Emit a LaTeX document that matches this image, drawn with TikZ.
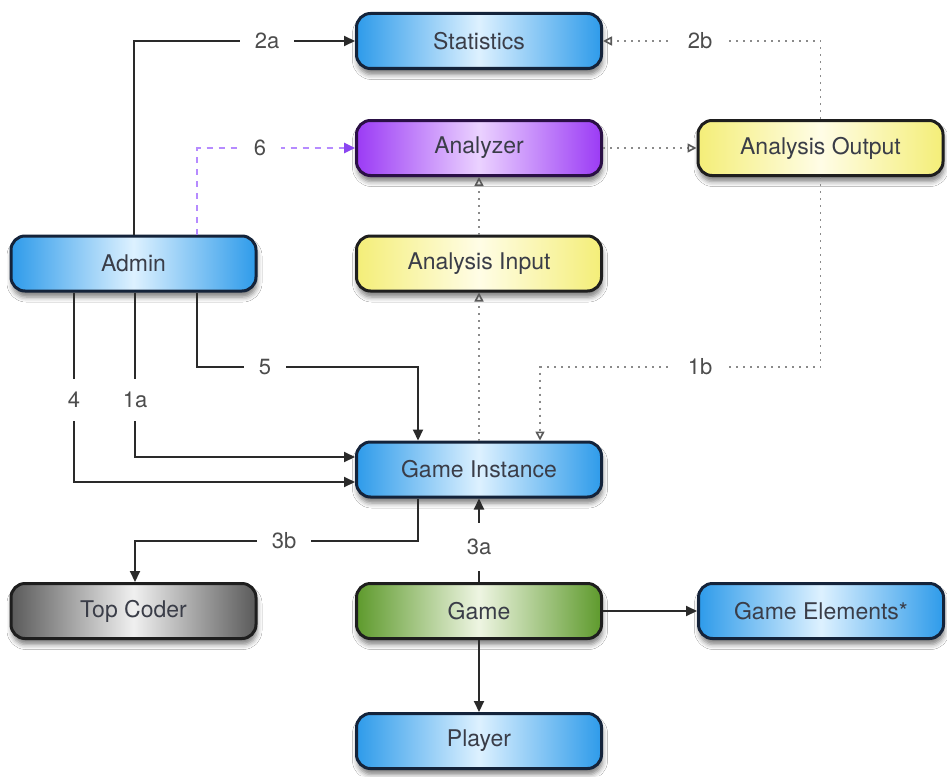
\documentclass[tikz,border=0pt]{standalone}
\usepackage{fontspec}
\setmainfont{TeX Gyre Heros}
\usetikzlibrary{arrows.meta,shadows.blur}

\definecolor{bluefill}{HTML}{2E9BEA}
\definecolor{bluelight}{HTML}{DDF1FF}
\definecolor{blueline}{HTML}{14233A}
\definecolor{purpfill}{HTML}{9B3BF5}
\definecolor{purplight}{HTML}{EBD2FF}
\definecolor{purpline}{HTML}{2A0F45}
\definecolor{yelfill}{HTML}{F4EE78}
\definecolor{yellight}{HTML}{FFFDE6}
\definecolor{grayfill}{HTML}{5A5A5A}
\definecolor{graylight}{HTML}{F0F0F0}
\definecolor{greenfill}{HTML}{5E9A2C}
\definecolor{greenlight}{HTML}{EEF5E2}
\definecolor{darkline}{HTML}{1E1E1E}
\definecolor{txt}{HTML}{3A3D48}
\definecolor{conncol}{HTML}{2A2A2A}
\definecolor{dotcol}{HTML}{8A8A8A}
\definecolor{purpconn}{HTML}{B68BFF}
\definecolor{purptip}{HTML}{8A45F0}

\tikzset{
  box/.style={rounded corners=14pt, minimum width=245pt, minimum height=55pt,
    line width=3pt, inner sep=0pt, text=txt,
    font=\fontsize{23}{26}\selectfont,
    blur shadow={shadow xshift=1pt, shadow yshift=-6pt,
      shadow blur radius=5pt, shadow opacity=50}},
  bluebox/.style={box, draw=blueline, left color=bluefill, right color=bluefill, middle color=bluelight},
  purpbox/.style={box, draw=purpline, left color=purpfill, right color=purpfill, middle color=purplight},
  yelbox/.style={box, draw=darkline, left color=yelfill, right color=yelfill, middle color=yellight},
  graybox/.style={box, draw=darkline, left color=grayfill, right color=grayfill, middle color=graylight},
  greenbox/.style={box, draw=darkline, left color=greenfill, right color=greenfill, middle color=greenlight},
  conn/.style={line width=2pt, draw=conncol, -{Triangle[length=11pt,width=10pt]}},
  dotconn/.style={line width=1.8pt, draw=dotcol, dash pattern=on 2pt off 5pt,
    -{Triangle[open,length=9pt,width=9pt,line width=1.6pt,color=black!65]}},
  purpconnstyle/.style={line width=2.5pt, draw=purpconn, dash pattern=on 6pt off 6pt,
    -{Triangle[length=11pt,width=10pt,color=purptip]}},
  lbl/.style={fill=white, inner xsep=15pt, inner ysep=13pt, text=black!70,
    font=\fontsize{22}{24}\selectfont},
}

\begin{document}
\begin{tikzpicture}[x=1pt,y=-1pt]
\useasboundingbox[fill=white] (0,0) rectangle (947,776);

% nodes
\node[bluebox]  (stat)   at (479,41)    {Statistics};
\node[purpbox]  (an)     at (479,148)   {Analyzer};
\node[yelbox]   (ao)     at (820.5,148) {Analysis Output};
\node[bluebox]  (admin)  at (133.5,263.5) {Admin};
\node[yelbox]   (ai)     at (479,263.5) {Analysis Input};
\node[bluebox]  (gi)     at (479,469.5) {Game Instance};
\node[graybox]  (tc)     at (133.5,611) {Top Coder};
\node[greenbox] (game)   at (479,611)   {Game};
\node[bluebox]  (ge)     at (821,611)   {Game Elements*};
\node[bluebox]  (player) at (479,741)   {Player};

% bend points
\coordinate (k6)  at (197,148);
\coordinate (k5a) at (197,367);
\coordinate (k5b) at (418,367);
\coordinate (k1a) at (135,457);
\coordinate (k4)  at (74,482);
\coordinate (k1b) at (540,367);
\coordinate (k3a) at (418,541);
\coordinate (k3b) at (135,541);

% connectors
\draw[conn] (admin.north) |- (stat.west);
\draw[purpconnstyle] (admin.north -| k6) |- (an.west);
\draw[dotconn] (ao.north) |- (stat.east);
\draw[dotconn] (an.east) -- (ao.west);
\draw[dotconn] (ai.north) -- (an.south);
\draw[dotconn] (gi.north) -- (ai.south);
\draw[dotconn] (ao.south) |- (k1b) -- (k1b |- gi.north);
\draw[conn] (admin.south -| k5a) -- (k5a) -- (k5b) -- (k5b |- gi.north);
\draw[conn] (admin.south -| k1a) -- (k1a) -- (k1a -| gi.west);
\draw[conn] (admin.south -| k4) -- (k4) -- (k4 -| gi.west);
\draw[conn] (gi.south -| k3a) -- (k3a) -- (k3b) -- (k3b |- tc.north);
\draw[conn] (game.north) -- (gi.south);
\draw[conn] (game.east) -- (ge.west);
\draw[conn] (game.south) -- (player.north);

% connector labels
\node[lbl] (l2a) at (267,41)  {2a};
\node[lbl] (l6)  at (260,148) {6};
\node[lbl] (l2b) at (700,41)  {2b};
\node[lbl] (l5)  at (265,367) {5};
\node[lbl] (l1b) at (700,367) {1b};
\node[lbl] (l4)  at (74,400)  {4};
\node[lbl] (l1a) at (135,400) {1a};
\node[lbl] (l3b) at (284,541) {3b};
\node[lbl, inner ysep=16pt] (l3a) at (479,547) {3a};
\end{tikzpicture}
\end{document}
